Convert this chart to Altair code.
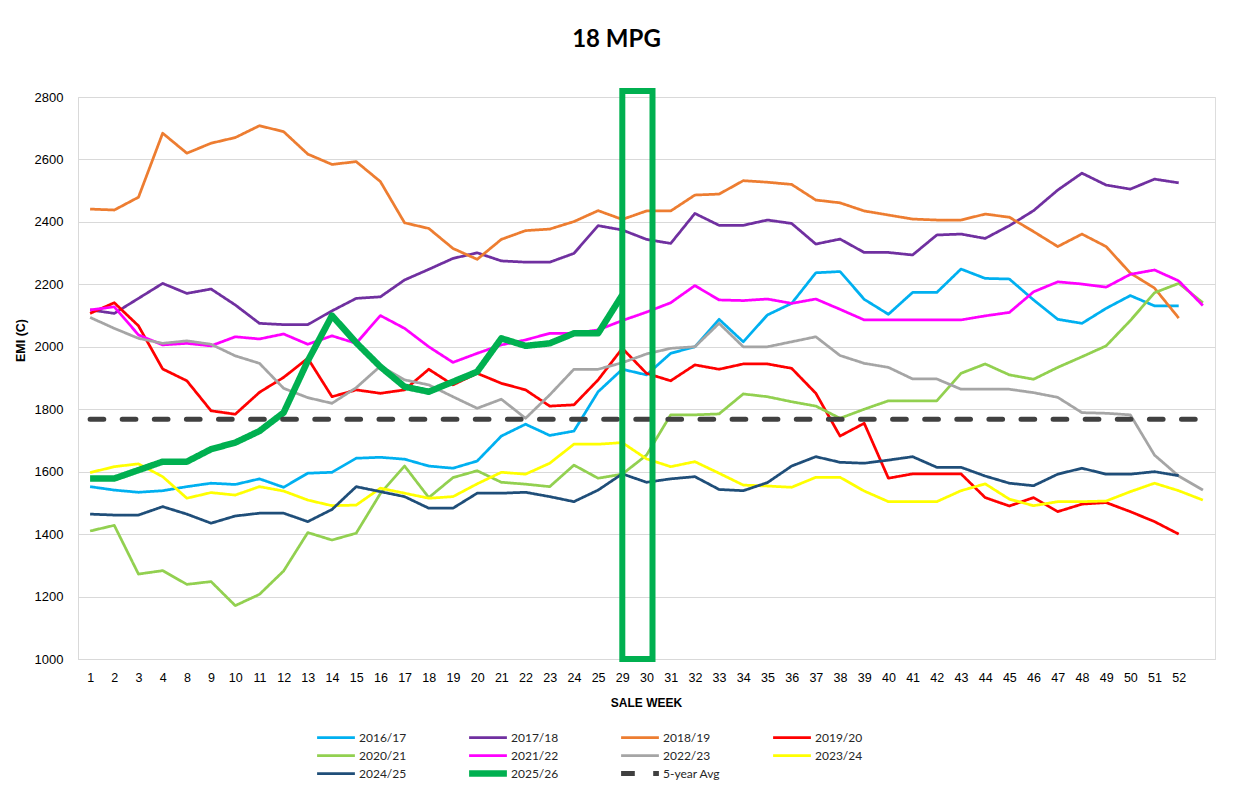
import altair as alt
import pandas as pd

weeks = ["1", "2", "3", "4", "8", "9", "10", "11", "12", "13", "14", "15", "16", "17",
         "18", "19", "20", "21", "22", "23", "24", "25", "29", "30", "31", "32", "33",
         "34", "35", "36", "37", "38", "39", "40", "41", "42", "43", "44", "45", "46",
         "47", "48", "49", "50", "51", "52", "53"]

s1617 = [1552, 1541, 1534, 1539, 1552, 1563, 1559, 1577, 1550, 1595, 1598, 1643, 1646, 1640,
         1618, 1611, 1634, 1714, 1752, 1716, 1730, 1856, 1928, 1910, 1979, 2000, 2088, 2016,
         2102, 2139, 2237, 2241, 2152, 2104, 2174, 2174, 2249, 2219, 2217, 2150, 2088, 2075,
         2123, 2164, 2131, 2131, None]
s1718 = [2118, 2107, 2155, 2203, 2171, 2185, 2134, 2075, 2071, 2071, 2115, 2155, 2160, 2214,
         2248, 2283, 2301, 2275, 2271, 2271, 2299, 2388, 2374, 2344, 2331, 2427, 2389, 2389,
         2406, 2395, 2329, 2345, 2302, 2302, 2294, 2358, 2361, 2347, 2388, 2436, 2502, 2556,
         2518, 2505, 2537, 2525, None]
s1819 = [2441, 2438, 2479, 2684, 2620, 2652, 2670, 2708, 2689, 2617, 2584, 2593, 2529, 2397,
         2379, 2315, 2280, 2344, 2372, 2377, 2401, 2436, 2408, 2435, 2435, 2486, 2489, 2532,
         2527, 2520, 2470, 2461, 2435, 2422, 2409, 2406, 2406, 2425, 2415, 2369, 2321, 2361,
         2321, 2236, 2188, 2092, None]
s1920 = [2107, 2141, 2067, 1929, 1891, 1795, 1784, 1854, 1902, 1963, 1840, 1862, 1851, 1862,
         1928, 1878, 1915, 1883, 1862, 1810, 1814, 1894, 1995, 1915, 1891, 1942, 1928, 1945,
         1945, 1931, 1851, 1714, 1755, 1579, 1593, 1593, 1593, 1517, 1490, 1517, 1472, 1496,
         1501, 1472, 1440, 1400, None]
s2021 = [1410, 1428, 1272, 1283, 1239, 1248, 1171, 1207, 1282, 1405, 1381, 1403, 1530, 1618,
         1517, 1581, 1603, 1566, 1560, 1552, 1621, 1579, 1592, 1653, 1782, 1782, 1785, 1849,
         1840, 1824, 1810, 1771, 1800, 1827, 1827, 1827, 1915, 1945, 1910, 1896, 1934, 1968,
         2003, 2084, 2173, 2203, 2141]
s2122 = [2118, 2128, 2038, 2006, 2011, 2003, 2032, 2025, 2041, 2008, 2035, 2011, 2100, 2059,
         2000, 1950, 1979, 2006, 2022, 2043, 2043, 2054, 2084, 2111, 2141, 2196, 2150, 2148,
         2153, 2139, 2153, 2120, 2086, 2086, 2086, 2086, 2086, 2099, 2110, 2176, 2208, 2201,
         2191, 2232, 2246, 2211, 2132]
s2223 = [2094, 2059, 2027, 2011, 2019, 2008, 1971, 1947, 1867, 1837, 1819, 1869, 1938, 1894,
         1878, 1840, 1803, 1832, 1771, 1846, 1928, 1928, 1949, 1977, 1995, 2000, 2075, 2000,
         2000, 2016, 2032, 1972, 1947, 1934, 1897, 1897, 1864, 1864, 1864, 1853, 1838, 1789,
         1787, 1782, 1653, 1586, 1541]
s2324 = [1597, 1616, 1625, 1584, 1515, 1533, 1525, 1552, 1538, 1509, 1491, 1493, 1547, 1531,
         1515, 1520, 1561, 1598, 1592, 1627, 1688, 1688, 1693, 1641, 1616, 1632, 1595, 1557,
         1554, 1550, 1582, 1582, 1538, 1504, 1504, 1504, 1539, 1561, 1512, 1491, 1504, 1504,
         1506, 1536, 1563, 1539, 1509]
s2425 = [1464, 1461, 1461, 1488, 1464, 1435, 1458, 1467, 1467, 1440, 1479, 1552, 1536, 1520,
         1483, 1483, 1531, 1531, 1534, 1520, 1504, 1541, 1593, 1566, 1577, 1584, 1543, 1539,
         1565, 1618, 1648, 1630, 1627, 1637, 1648, 1614, 1614, 1586, 1563, 1555, 1592, 1611,
         1592, 1592, 1600, 1587, None]
s2526 = [1578, 1578, 1605, 1632, 1632, 1672, 1693, 1730, 1789, 1955, 2100, 2013, 1936, 1872,
         1856, 1888, 1920, 2027, 2003, 2011, 2043, 2043, 2166]
avg5 = [1768, 1768, 1768, 1768, 1768, 1768, 1768, 1768, 1768, 1768, 1768, 1768, 1768, 1768,
        1768, 1768, 1768, 1768, 1768, 1768, 1768, 1768, 1768, 1768, 1768, 1768, 1768, 1768,
        1768, 1768, 1768, 1768, 1768, 1768, 1768, 1768, 1768, 1768, 1768, 1768, 1768, 1768,
        1768, 1768, 1768, 1768, 1768]

season_names = ["2016/17", "2017/18", "2018/19", "2019/20", "2020/21", "2021/22",
                "2022/23", "2023/24", "2024/25", "2025/26"]
season_values = [s1617, s1718, s1819, s1920, s2021, s2122, s2223, s2324, s2425, s2526]
avg_name = "5-year Avg"

all_names = season_names + [avg_name]
colors = ["#00B0F0", "#7030A0", "#ED7D31", "#FF0000", "#92D050", "#FF00FF",
          "#A5A5A5", "#FFFF00", "#1F4E79", "#00B050", "#404040"]
widths = [2.75, 2.75, 2.75, 2.75, 2.75, 2.75, 2.75, 2.75, 2.75, 6.5, 5]
dashes = [[1, 0]] * 10 + [[13.7, 18.4]]

# highlighted weeks box
box_weeks = ["29", "30"]
box_values = [2819, 1000]

rows = []
for name, vals in zip(season_names, season_values):
    for w, v in zip(weeks, vals):
        if v is not None:
            rows.append({"week": w, "series": name, "value": v})
df = pd.DataFrame(rows)
df_avg = pd.DataFrame({"week": weeks, "series": avg_name, "value": avg5})
df_box = pd.DataFrame({"week": [box_weeks[0]], "week2": [box_weeks[1]],
                       "value": [box_values[0]], "value2": [box_values[1]]})

FONT = "Lato"
TXT = "#262626"

x_enc = alt.X("week:O", sort=weeks,
              scale=alt.Scale(type="point", domain=weeks, padding=0.5),
              axis=alt.Axis(title="SALE WEEK", labelAngle=0, ticks=False, tickSize=0,
                            labelPadding=12, labelFontSize=12.5,
                            labelExpr="datum.value == '53' ? '' : datum.label",
                            titleY=43, titleX=568, titleBaseline="middle",
                            titleFontSize=12, titleFontWeight="bold",
                            grid=False, domainColor="#D9D9D9"))
y_enc = alt.Y("value:Q",
              scale=alt.Scale(domain=[1000, 2800], nice=False, zero=False),
              axis=alt.Axis(title="EMI (C)", values=list(range(1000, 2801, 200)),
                            format="d",
                            ticks=False, tickSize=0, labelPadding=15, labelFontSize=13,
                            titleX=-58, titleY=243, titleAngle=270, titleAlign="center",
                            titleBaseline="middle", titleFontSize=12.5,
                            titleFontWeight="bold", gridColor="#D9D9D9",
                            domainColor="#D9D9D9"))

legend = alt.Legend(orient="none", legendX=239, legendY=632, columns=4,
                    direction="horizontal",
                    symbolType="M-1.2,0H1.2", symbolSize=992, labelFontSize=12,
                    symbolFillColor="transparent", clipHeight=17,
                    labelOffset=4, columnPadding=52, rowPadding=1, gridAlign="all",
                    padding=0, labelFont=FONT, labelColor=TXT)

color_enc = alt.Color("series:N", title=None,
                      scale=alt.Scale(domain=all_names, range=colors), legend=legend)
sw_enc = alt.StrokeWidth("series:N", title=None,
                         scale=alt.Scale(type="ordinal", domain=all_names, range=widths),
                         legend=legend)
dash_enc = alt.StrokeDash("series:N", title=None,
                          scale=alt.Scale(domain=all_names, range=dashes), legend=legend)

lines = alt.Chart(df).mark_line(strokeJoin="round").encode(
    x=x_enc, y=y_enc, color=color_enc, strokeWidth=sw_enc, strokeDash=dash_enc,
    order=alt.Order("series:N")
)
avg_line = alt.Chart(df_avg).mark_line(strokeCap="round").encode(
    x=x_enc, y=y_enc, color=color_enc, strokeWidth=sw_enc, strokeDash=dash_enc
)
box = alt.Chart(df_box).mark_rect(fill="transparent", stroke="#00B050", strokeWidth=6,
                                   x2Offset=6).encode(
    x=alt.X("week:O", sort=weeks), x2="week2", y="value:Q", y2="value2"
)

chart = alt.layer(lines, avg_line, box).properties(
    width=1137, height=562,
    title=alt.TitleParams("18 MPG", fontSize=24, fontWeight="bold", font=FONT,
                          anchor="middle", frame="group", offset=17,
                          baseline="alphabetic", dx=-30, color="#000000"),
    autosize=alt.AutoSizeParams(type="none"),
    padding={"left": 70, "top": 89, "right": 10, "bottom": 143},
).configure_view(strokeWidth=0).configure_axis(
    labelFont=FONT, titleFont=FONT, labelColor=TXT, titleColor="#000000"
).configure(background="white")

chart.save("out.html", embed_options={"renderer": "svg", "actions": False})
